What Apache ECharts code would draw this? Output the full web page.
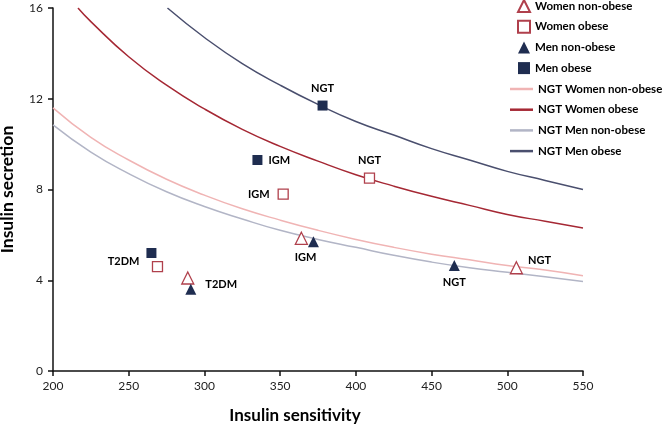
<!DOCTYPE html>
<html><head><meta charset="utf-8">
<script src="https://cdn.jsdelivr.net/npm/echarts@6/dist/echarts.min.js"></script>
<style>html,body{margin:0;padding:0;background:#fff}#c{width:664px;height:428px}</style>
</head><body><div id="c"></div>
<script>
// Scatter points [insulin sensitivity, insulin secretion] for T2DM, IGM, NGT
var stages = ['T2DM', 'IGM', 'NGT'];
var womenNonObese = [[289, 4.1], [364, 5.85], [506, 4.55]];
var womenObese = [[269, 4.6], [352, 7.8], [409, 8.5]];
var menNonObese = [[291, 3.6], [372, 5.7], [465, 4.65]];
var menObese = [[265, 5.2], [335, 9.3], [378, 11.7]];

// NGT reference curves
var curveX = [200, 225, 250, 275, 300, 325, 350, 375, 400, 425, 450, 475, 500, 525, 550];
var ngtWomenNonObese = [11.6, 10.3, 9.3, 8.45, 7.75, 7.15, 6.65, 6.2, 5.8, 5.45, 5.15, 4.9, 4.65, 4.45, 4.2];
var ngtMenNonObese = [10.85, 9.65, 8.7, 7.9, 7.25, 6.7, 6.2, 5.8, 5.45, 5.1, 4.8, 4.55, 4.35, 4.15, 3.95];
var ngtWomenObeseX = [216.5, 225, 250, 275, 300, 325, 350, 375, 400, 425, 450, 475, 500, 525, 550];
var ngtWomenObese = [16.0, 15.4, 13.85, 12.6, 11.55, 10.65, 9.9, 9.25, 8.65, 8.15, 7.7, 7.3, 6.9, 6.6, 6.3];
var ngtMenObeseX = [275.6, 300, 325, 350, 375, 400, 425, 450, 475, 500, 525, 550];
var ngtMenObese = [16.0, 14.7, 13.55, 12.6, 11.75, 11.0, 10.4, 9.8, 9.3, 8.8, 8.4, 8.0];

var xTicks = {min: 200, max: 550, interval: 50};
var yTicks = {min: 0, max: 16, interval: 4};

var RED = '#b0404c', NAVY = '#1f2d50';
var FONT = 'Lato';

function zip(xs, ys) { return xs.map(function (x, i) { return [x, ys[i]]; }); }

var lblBase = {show: true, fontFamily: FONT, fontWeight: 'bold', fontSize: 11, color: '#000', opacity: 1};
function pts(arr, labels) {
  return arr.map(function (p, i) {
    var d = {value: p};
    if (labels[i]) d.label = Object.assign({}, lblBase, labels[i]);
    return d;
  });
}
var legendText = {fontFamily: FONT, fontWeight: 'bold', fontSize: 11.5, color: '#000', lineHeight: 14};

var chart = echarts.init(document.getElementById('c'));
chart.setOption({
  animation: false,
  grid: {left: 53, right: 81, top: 8, bottom: 57, containLabel: false, outerBoundsMode: 'none'},
  legend: [{
    orient: 'vertical', left: 517, top: -1, padding: 0, itemWidth: 12, itemHeight: 12, itemGap: 6.7,
    textStyle: legendText,
    data: ['Women non-obese', 'Women obese', 'Men non-obese', 'Men obese']
  }, {
    orient: 'vertical', left: 510, top: 82, padding: 0, itemWidth: 23, itemHeight: 2.5, itemGap: 6.7, icon: 'rect',
    textStyle: legendText,
    data: ['NGT Women non-obese', 'NGT Women obese', 'NGT Men non-obese', 'NGT Men obese']
  }],
  xAxis: {
    type: 'value', min: xTicks.min, max: xTicks.max, interval: xTicks.interval,
    name: 'Insulin sensitivity', nameLocation: 'middle', nameGap: 36,
    nameTextStyle: {fontFamily: FONT, fontWeight: 'bold', fontSize: 17, color: '#000', padding: [0, 46, 0, 0]},
    axisLine: {lineStyle: {color: '#111', width: 1.5}},
    axisTick: {show: true, length: 5, lineStyle: {color: '#111', width: 1.5}},
    axisLabel: {fontFamily: FONT, fontSize: 12, color: '#222', margin: 9},
    splitLine: {show: false}
  },
  yAxis: {
    type: 'value', min: yTicks.min, max: yTicks.max, interval: yTicks.interval,
    name: 'Insulin secretion', nameLocation: 'middle', nameGap: 37, nameRotate: 90,
    nameTextStyle: {fontFamily: FONT, fontWeight: 'bold', fontSize: 17.5, color: '#000'},
    axisLine: {show: true, lineStyle: {color: '#111', width: 1.5}},
    axisTick: {show: true, length: 5, lineStyle: {color: '#111', width: 1.5}},
    axisLabel: {fontFamily: FONT, fontSize: 12, color: '#222', margin: 10},
    splitLine: {show: false}
  },
  series: [
    {name: 'NGT Women non-obese', type: 'line', smooth: true, symbol: 'none', z: 1,
      lineStyle: {color: '#f0b4b4', width: 1.5}, itemStyle: {color: '#f0b4b4'}, data: zip(curveX, ngtWomenNonObese)},
    {name: 'NGT Women obese', type: 'line', smooth: true, symbol: 'none', z: 1,
      lineStyle: {color: '#a52834', width: 1.5}, itemStyle: {color: '#a52834'}, data: zip(ngtWomenObeseX, ngtWomenObese)},
    {name: 'NGT Men non-obese', type: 'line', smooth: true, symbol: 'none', z: 1,
      lineStyle: {color: '#b2b5c6', width: 1.5}, itemStyle: {color: '#b2b5c6'}, data: zip(curveX, ngtMenNonObese)},
    {name: 'NGT Men obese', type: 'line', smooth: true, symbol: 'none', z: 1,
      lineStyle: {color: '#4a4f6e', width: 1.5}, itemStyle: {color: '#4a4f6e'}, data: zip(ngtMenObeseX, ngtMenObese)},
    {name: 'Women non-obese', type: 'scatter', symbol: 'triangle', symbolSize: 12, z: 5,
      itemStyle: {color: '#fff', borderColor: RED, borderWidth: 1.3, opacity: 1},
      data: pts(womenNonObese, [null, null, {formatter: stages[2], position: 'right', offset: [0, -7]}])},
    {name: 'Women obese', type: 'scatter', symbol: 'rect', symbolSize: 10, z: 5,
      itemStyle: {color: '#fff', borderColor: RED, borderWidth: 1.3, opacity: 1},
      data: pts(womenObese, [null, {formatter: stages[1], position: 'left', distance: 8}, {formatter: stages[2], position: 'top', distance: 7}])},
    {name: 'Men non-obese', type: 'scatter', symbol: 'triangle', symbolSize: 11, z: 5,
      itemStyle: {color: NAVY, opacity: 1},
      data: pts(menNonObese, [{formatter: stages[0], position: 'right', offset: [4, -5]}, {formatter: stages[1], position: 'bottom', offset: [-8, 0]}, {formatter: stages[2], position: 'bottom', distance: 6}])},
    {name: 'Men obese', type: 'scatter', symbol: 'rect', symbolSize: 10, z: 5,
      itemStyle: {color: NAVY, opacity: 1},
      data: pts(menObese, [{formatter: stages[0], position: 'left', offset: [-2, 8]}, {formatter: stages[1], position: 'right', distance: 6}, {formatter: stages[2], position: 'top', distance: 7}])}
  ]
});
</script></body></html>
